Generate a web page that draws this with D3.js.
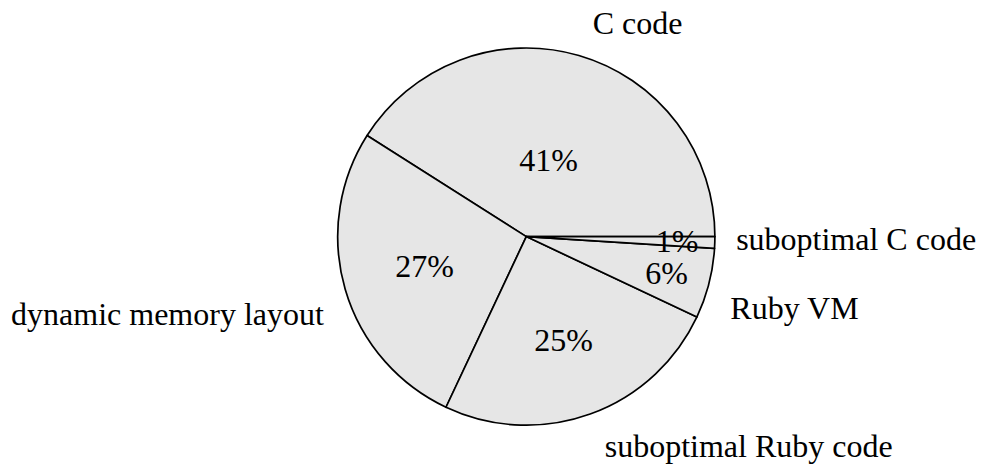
<!DOCTYPE html>
<html>
<head>
<meta charset="utf-8">
<script src="https://cdn.jsdelivr.net/npm/d3@7"></script>
<style>
  html, body { margin: 0; padding: 0; background: #ffffff; }
  svg { display: block; }
</style>
</head>
<body>
<svg id="chart" width="984" height="465"></svg>
<script>
// Where the time goes: share of each cost category (percent)
const categories = ["C code", "dynamic memory layout", "suboptimal Ruby code", "Ruby VM", "suboptimal C code"];
const shares = [41, 27, 25, 6, 1];
const pctLabels = shares.map(v => v + "%");

const width = 984, height = 465;
const cx = 526.3, cy = 236.6, radius = 188.6;
const fontSize = 32;
const sep = fontSize / 3;           // padding round each text box
const ascent = 0.683 * fontSize;     // height of b, d, l
const descent = 0.217 * fontSize;    // depth of p, y, g

const svg = d3.select("#chart");
const g = svg.append("g").attr("transform", `translate(${cx},${cy})`);

// Slices run counter-clockwise starting at 3 o'clock
const pie = d3.pie().sort(null).value(d => d)
  .startAngle(Math.PI / 2).endAngle(Math.PI / 2 - 2 * Math.PI);
const arcs = pie(shares);

const arc = d3.arc().innerRadius(0).outerRadius(radius);

g.selectAll("path.slice")
  .data(arcs)
  .join("path")
  .attr("class", "slice")
  .attr("d", arc)
  .attr("fill", "#e6e6e6")
  .attr("stroke", "#000")
  .attr("stroke-width", 1.7)
  .attr("stroke-linejoin", "round");

function midAngle(d) { return (d.startAngle + d.endAngle) / 2; }
function spanDeg(d) { return Math.abs(d.endAngle - d.startAngle) * 180 / Math.PI; }
function mathDeg(d) {
  let t = 90 - midAngle(d) * 180 / Math.PI;
  t = ((t % 360) + 360) % 360;
  return t;
}

// Percentages: narrow slices push their number further out
g.selectAll("text.pct")
  .data(arcs)
  .join("text")
  .attr("class", "pct")
  .attr("font-family", "'Liberation Serif', 'Times New Roman', serif")
  .attr("font-size", fontSize)
  .attr("text-anchor", "middle")
  .attr("fill", "#000")
  .each(function (d, i) {
    const f = 0.8 + Math.min((spanDeg(d) - 10) / 110 * (-0.3), 0);
    const r = f * radius;
    const a = midAngle(d);
    const x = Math.sin(a) * r;
    const y = -Math.cos(a) * r;
    d3.select(this)
      .attr("x", x)
      .attr("y", y + 0.34 * fontSize)
      .text(pctLabels[i]);
  });

// Anchor side of each outer label, chosen from the slice direction
function anchorFor(deg) {
  const t = Math.floor(deg);
  if (t < 3) return [-1, 0];
  if (t < 88) return [-1, 1];
  if (t < 93) return [0, 1];
  if (t < 178) return [1, 1];
  if (t < 183) return [1, 0];
  if (t < 268) return [1, -1];
  if (t < 273) return [0, -1];
  if (t < 358) return [-1, -1];
  return [-1, 0];
}

g.selectAll("text.cat")
  .data(arcs)
  .join("text")
  .attr("class", "cat")
  .attr("font-family", "'Liberation Serif', 'Times New Roman', serif")
  .attr("font-size", fontSize)
  .attr("fill", "#000")
  .text((d, i) => categories[i])
  .each(function (d, i) {
    const a = midAngle(d);
    const ux = Math.sin(a), uy = -Math.cos(a);
    const dist = radius + sep / Math.max(Math.abs(ux), Math.abs(uy));
    const px = ux * dist, py = uy * dist;
    const w = this.getComputedTextLength();
    const desc = /[gjpqy]/.test(categories[i]) ? descent : 0;
    const boxW = w + 2 * sep;
    const boxH = ascent + desc + 2 * sep;
    const [hx, vy] = anchorFor(mathDeg(d));
    const left = px - (hx + 1) / 2 * boxW;
    const top = py - (vy + 1) / 2 * boxH;
    d3.select(this)
      .attr("x", left + sep)
      .attr("y", top + sep + ascent);
  });
</script>
</body>
</html>
